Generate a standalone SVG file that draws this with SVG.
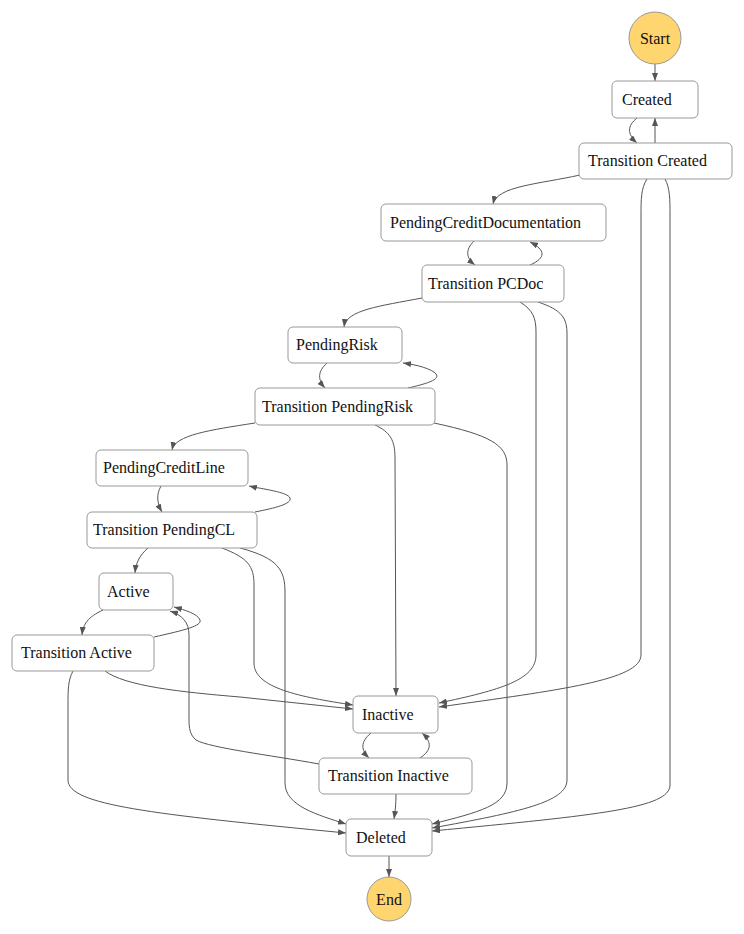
<svg xmlns="http://www.w3.org/2000/svg" width="744" height="934" viewBox="0 0 744 934">
<style>
.node rect{fill:#fff;stroke:#999;stroke-width:1}
.node circle{fill:#FFD56F;stroke:#999;stroke-width:1}
.node text{font-family:"Liberation Serif","Times New Roman",serif;font-size:16px;fill:#111}
.edges path{fill:none;stroke:#555;stroke-width:1;marker-end:url(#arrow)}
</style>
<defs>
<marker id="arrow" viewBox="0 0 8 6" refX="8" refY="3" markerWidth="8" markerHeight="6" markerUnits="userSpaceOnUse" orient="auto">
<path d="M0,0 L8,3 L0,6 z" fill="#555"/>
</marker>
</defs>
<rect width="744" height="934" fill="#fff"/>
<g class="edges">
<path d="M655,64 L655,81"/>
<path d="M637,118 C627,126 627,134 637,143"/>
<path d="M655,143 L655,118"/>
<path d="M580,175 C540,184 497,186 493,204"/>
<path d="M647,179 C641,188 641,200 641,215 L641,655 C641,680 560,690 439,707"/>
<path d="M665,179 C670,188 670,200 670,215 L670,785 C670,808 600,815 432,831"/>
<path d="M422,298 C380,306 346,310 344,327"/>
<path d="M474,241 C465,250 466,258 475,265"/>
<path d="M530,265 C546,258 546,250 530,242"/>
<path d="M520,302 C533,310 536,318 536,332 L536,655 C536,680 500,690 439,703"/>
<path d="M538,302 C562,310 567,318 567,334 L567,780 C567,802 520,812 432,828"/>
<path d="M327,363 C317,372 318,380 325,388"/>
<path d="M408,388 C430,383 440,379 436,374 C432,369 418,365 403,363"/>
<path d="M255,423 C210,430 175,435 172,450"/>
<path d="M375,425 C390,432 395,440 395,458 L396,696"/>
<path d="M434,423 C490,435 507,445 507,465 L507,783 C507,805 480,812 432,824"/>
<path d="M161,486 C156,495 157,503 162,512"/>
<path d="M255,512 C275,508 292,504 290,498 C288,492 262,489 249,486"/>
<path d="M148,548 C140,555 136,562 135,573"/>
<path d="M222,548 C248,558 254,566 254,585 L254,663 C254,688 300,697 353,705"/>
<path d="M240,548 C278,558 285,570 285,592 L285,783 C285,806 318,815 346,824"/>
<path d="M103,610 C88,617 83,624 82,635"/>
<path d="M154,637 C185,630 202,626 200,620 C198,614 185,610 174,607"/>
<path d="M105,671 C125,686 180,692 240,697 L353,709"/>
<path d="M73,671 C68,680 68,690 68,705 L68,780 C68,805 150,814 346,833"/>
<path d="M319,764 C270,755 210,748 196,740 C190,735 189,728 189,720 L189,635 C189,622 182,615 170,611"/>
<path d="M371,733 C360,742 361,750 369,758"/>
<path d="M420,758 C432,750 432,742 422,733"/>
<path d="M396,794 C396,805 395,812 394,819"/>
<path d="M389,856 L389,877"/>
</g>
<g id="node-start" class="node"><circle cx="655" cy="38" r="26"/><text x="655" y="44" text-anchor="middle">Start</text></g>
<g id="node-created" class="node"><rect x="612" y="81" width="86" height="37" rx="5"/><text x="622" y="105">Created</text></g>
<g id="node-transition-created" class="node"><rect x="579" y="143" width="153" height="36" rx="5"/><text x="588" y="166">Transition Created</text></g>
<g id="node-pcd" class="node"><rect x="381" y="204" width="225" height="37" rx="5"/><text x="390" y="228">PendingCreditDocumentation</text></g>
<g id="node-transition-pcdoc" class="node"><rect x="422" y="265" width="142" height="37" rx="5"/><text x="428" y="289">Transition PCDoc</text></g>
<g id="node-pendingrisk" class="node"><rect x="288" y="327" width="114" height="36" rx="5"/><text x="296" y="350">PendingRisk</text></g>
<g id="node-transition-pendingrisk" class="node"><rect x="255" y="388" width="180" height="37" rx="5"/><text x="262" y="412">Transition PendingRisk</text></g>
<g id="node-pcl" class="node"><rect x="96" y="450" width="152" height="36" rx="5"/><text x="103" y="473">PendingCreditLine</text></g>
<g id="node-transition-pcl" class="node"><rect x="87" y="512" width="170" height="36" rx="5"/><text x="93" y="535">Transition PendingCL</text></g>
<g id="node-active" class="node"><rect x="99" y="573" width="74" height="37" rx="5"/><text x="107" y="597">Active</text></g>
<g id="node-transition-active" class="node"><rect x="12" y="635" width="142" height="36" rx="5"/><text x="21" y="658">Transition Active</text></g>
<g id="node-inactive" class="node"><rect x="353" y="696" width="85" height="37" rx="5"/><text x="362" y="720">Inactive</text></g>
<g id="node-transition-inactive" class="node"><rect x="319" y="758" width="153" height="36" rx="5"/><text x="328" y="781">Transition Inactive</text></g>
<g id="node-deleted" class="node"><rect x="346" y="819" width="86" height="37" rx="5"/><text x="356" y="843">Deleted</text></g>
<g id="node-end" class="node"><circle cx="389" cy="899" r="22"/><text x="389" y="905" text-anchor="middle">End</text></g>
</svg>
